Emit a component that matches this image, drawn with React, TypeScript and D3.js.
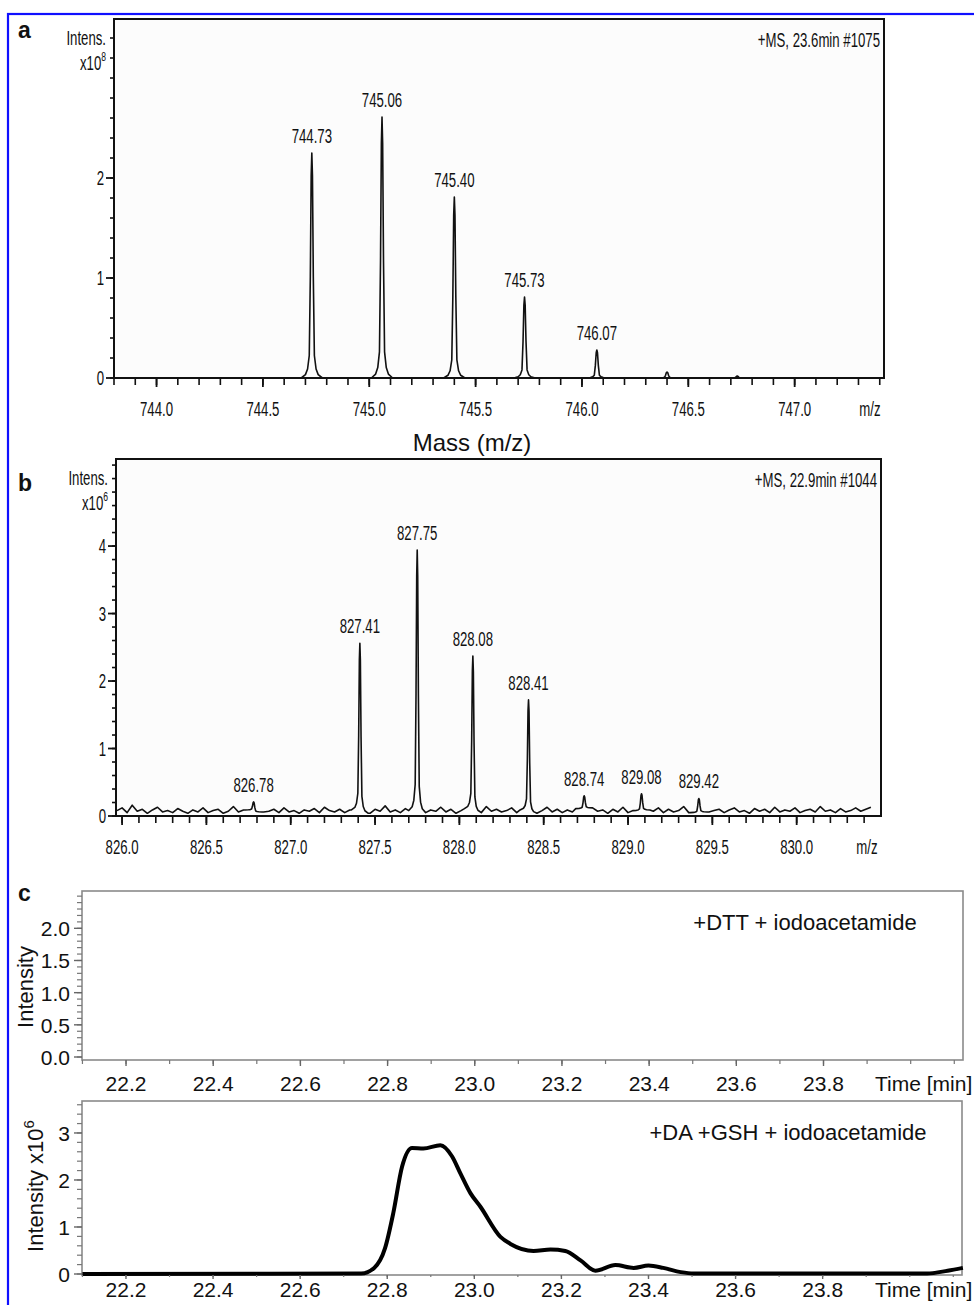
import React from "react";
import * as d3 from "d3";

// ---------- DATA ----------
// Panel a: isotope peaks (m/z, intensity x10^8)
const peaksAmz = [744.73, 745.06, 745.4, 745.73, 746.07, 746.4, 746.73];
const peaksAint = [2.25, 2.61, 1.81, 0.81, 0.28, 0.06, 0.02];
const peaksAlabel = ["744.73", "745.06", "745.40", "745.73", "746.07", "", ""];

// Panel b: isotope peaks (m/z, intensity x10^6)
const peaksBmz = [826.78, 827.41, 827.75, 828.08, 828.41, 828.74, 829.08, 829.42];
const peaksBint = [0.21, 2.56, 3.94, 2.37, 1.72, 0.3, 0.33, 0.26];
const peaksBlabel = ["826.78", "827.41", "827.75", "828.08", "828.41", "828.74", "829.08", "829.42"];
// baseline noise of panel b, one reading every 0.03 m/z from 825.97
const noiseB = [
  0.08, 0.12, 0.05, 0.16, 0.07, 0.1, 0.04, 0.09, 0.13, 0.06, 0.08, 0.05, 0.11, 0.07, 0.04, 0.09, 0.06, 0.12, 0.05, 0.08, 0.1, 0.04, 0.07, 0.14, 0.06, 0.09, 0.05, 0.08, 0.11, 0.06,
  0.07, 0.1, 0.05, 0.12, 0.06, 0.08, 0.04, 0.09, 0.07, 0.11, 0.05, 0.13, 0.08, 0.06, 0.1, 0.05, 0.09, 0.12, 0.06, 0.08, 0.04, 0.1, 0.07, 0.15, 0.06, 0.09, 0.05, 0.11, 0.08, 0.06,
  0.12, 0.05, 0.09, 0.07, 0.13, 0.06, 0.1, 0.04, 0.08, 0.11, 0.06, 0.09, 0.05, 0.14, 0.07, 0.1, 0.06, 0.08, 0.12, 0.05, 0.09, 0.07, 0.11, 0.04, 0.08, 0.13, 0.06, 0.1, 0.05, 0.09,
  0.06, 0.11, 0.05, 0.08, 0.12, 0.07, 0.09, 0.04, 0.1, 0.06, 0.13, 0.05, 0.08, 0.11, 0.06, 0.09, 0.07, 0.12, 0.05, 0.1, 0.06, 0.08, 0.14, 0.05, 0.09, 0.07, 0.11, 0.06, 0.08, 0.1,
  0.05, 0.09, 0.12, 0.06, 0.08, 0.04, 0.11, 0.07, 0.1, 0.05, 0.13, 0.06, 0.09, 0.07, 0.12, 0.05, 0.08, 0.1, 0.06, 0.14, 0.07, 0.09, 0.05, 0.11, 0.06, 0.08, 0.12, 0.07, 0.1, 0.13,
];
const noiseBstart = 825.97;
const noiseBstep = 0.03;

// shape of a single centroid peak: offset (m/z) and relative height
const peakOffsets = [-0.05, -0.03, -0.02, -0.012, -0.007, -0.003, 0, 0.003, 0.007, 0.012, 0.02, 0.03, 0.05];
const peakRel = [0, 0.015, 0.04, 0.1, 0.45, 0.9, 1, 0.9, 0.45, 0.1, 0.04, 0.015, 0];

// Panel c (lower): extracted ion chromatogram (time min, intensity x10^6)
const timeC = [22.1, 22.74, 22.77, 22.795, 22.814, 22.834, 22.857, 22.883, 22.922, 22.949, 22.968, 22.991, 23.014, 23.06, 23.083, 23.136, 23.175, 23.209, 23.244, 23.278, 23.324, 23.366, 23.4, 23.434, 23.474, 23.503, 24.04, 24.087, 24.122];
const intC = [0, 0.01, 0.13, 0.55, 1.3, 2.28, 2.68, 2.67, 2.74, 2.5, 2.14, 1.72, 1.43, 0.79, 0.64, 0.49, 0.52, 0.49, 0.29, 0.07, 0.19, 0.13, 0.18, 0.13, 0.04, 0.01, 0.01, 0.07, 0.13];

// tick values
const xTicksA = [744.0, 744.5, 745.0, 745.5, 746.0, 746.5, 747.0];
const yTicksA = [0, 1, 2];
const xTicksB = [826.0, 826.5, 827.0, 827.5, 828.0, 828.5, 829.0, 829.5, 830.0];
const yTicksB = [0, 1, 2, 3, 4];
const xTicksC = [22.2, 22.4, 22.6, 22.8, 23.0, 23.2, 23.4, 23.6, 23.8];
const yTicksC1 = [0, 0.5, 1.0, 1.5, 2.0];
const yTicksC2 = [0, 1, 2, 3];

// ---------- HELPERS ----------
const SANS = "'Liberation Sans', Arial, Helvetica, sans-serif";

function NText({ x, y, anchor = "middle", size = 20, sx = 0.66, children }: any) {
  return (
    <text
      transform={`translate(${x},${y}) scale(${sx},1)`}
      textAnchor={anchor}
      fontSize={size}
      fontFamily={SANS}
      fill="#111"
    >
      {children}
    </text>
  );
}

function spectrumPoints(mzs: number[], ints: number[], lo: number, hi: number, base: number[] | null) {
  const pts: [number, number][] = [];
  const inPeak = (m: number) => mzs.some((p) => Math.abs(m - p) < 0.05);
  if (base) {
    base.forEach((v, i) => {
      const m = noiseBstart + i * noiseBstep;
      if (m >= lo && m <= hi && !inPeak(m)) pts.push([m, v]);
    });
  } else {
    pts.push([lo, 0], [hi, 0]);
  }
  const baseAt = (m: number) => {
    if (!base) return 0;
    const i = Math.max(0, Math.min(base.length - 1, Math.round((m - noiseBstart) / noiseBstep)));
    return base[i];
  };
  mzs.forEach((p, k) => {
    const b0 = baseAt(p - 0.05);
    const b1 = baseAt(p + 0.05);
    peakOffsets.forEach((o, j) => {
      const b = o < 0 ? b0 : b1;
      pts.push([p + o, b + (ints[k] - b) * peakRel[j]]);
    });
  });
  pts.sort((a, b) => a[0] - b[0]);
  return pts;
}

// ---------- MS PANEL (a, b) ----------
function MSPanel({ x, y, mzs, ints, labels, base, xTicks, yTicks, expo, info, letter, letterY, labelDx = 0 }: any) {
  const line = d3
    .line<[number, number]>()
    .x((d) => x(d[0]))
    .y((d) => y(d[1]));
  const [x0, x1] = x.range();
  const [y0, y1] = y.range();
  const dom = x.domain();
  const ydom = y.domain();
  const pts = spectrumPoints(mzs, ints, dom[0], dom[1], base);
  const minorX = d3.range(Math.ceil(dom[0] * 10) / 10, dom[1], 0.1);
  const minorY = d3.range(0, ydom[1], 0.2);
  return (
    <g>
      <rect x={x0} y={y1} width={x1 - x0} height={y0 - y1} fill="#fcfcfc" stroke="#111" strokeWidth={2} />
      <path d={line(pts) || ""} fill="none" stroke="#111" strokeWidth={1.6} strokeLinejoin="round" />
      <line x1={x0} x2={x1} y1={y0} y2={y0} stroke="#111" strokeWidth={2} />
      {minorX.map((m: number, i: number) => (
        <line key={"mx" + i} x1={x(m)} x2={x(m)} y1={y0} y2={y0 + 7} stroke="#111" strokeWidth={1.6} />
      ))}
      {xTicks.map((t: number) => (
        <g key={"xt" + t}>
          <line x1={x(t)} x2={x(t)} y1={y0} y2={y0 + 9} stroke="#111" strokeWidth={1.8} />
          <NText x={x(t)} y={y0 + 38}>{t.toFixed(1)}</NText>
        </g>
      ))}
      <NText x={x1 - 14} y={y0 + 38}>m/z</NText>
      {minorY.map((v: number, i: number) => (
        <line key={"my" + i} x1={x0 - 4} x2={x0} y1={y(v)} y2={y(v)} stroke="#111" strokeWidth={1.6} />
      ))}
      {yTicks.map((t: number) => (
        <g key={"yt" + t}>
          <line x1={x0 - 8} x2={x0} y1={y(t)} y2={y(t)} stroke="#111" strokeWidth={1.8} />
          <NText x={x0 - 10} y={y(t) + 7} anchor="end">{String(t)}</NText>
        </g>
      ))}
      <NText x={x0 - 8} y={y1 + 26} anchor="end">Intens.</NText>
      <text transform={`translate(${x0 - 8},${y1 + 51}) scale(0.66,1)`} textAnchor="end" fontSize={20} fontFamily={SANS} fill="#111">
        x10<tspan fontSize={13} dy={-9}>{expo}</tspan>
      </text>
      <NText x={x1 - 4} y={y1 + 28} anchor="end">{info}</NText>
      {labels.map((l: string, i: number) =>
        l ? (
          <NText key={"pl" + i} x={x(mzs[i]) + labelDx} y={y(ints[i]) - 10}>
            {l}
          </NText>
        ) : null
      )}
      <text x={18} y={letterY} fontSize={23} fontWeight="bold" fontFamily={SANS} fill="#111">
        {letter}
      </text>
    </g>
  );
}

// ---------- CHROMATOGRAM PANEL (c) ----------
function ChromPanel({ x, y, yTicks, minorStep, yFmt, title, titleX, ylabel, data, labelDy, tickLen, frameGap }: any) {
  const [x0, x1] = x.range();
  const [yb, yt] = y.range();
  const xdom = x.domain();
  const ydom = y.domain();
  const frameBottom = yb + frameGap;
  const minorX = d3.range(22.1, xdom[1], 0.1);
  const minorY = d3.range(0, ydom[1], minorStep);
  const line = d3
    .line<[number, number]>()
    .x((d) => x(d[0]))
    .y((d) => y(d[1]))
    .curve(d3.curveMonotoneX);
  return (
    <g>
      <rect x={x0} y={yt} width={x1 - x0} height={frameBottom - yt} fill="#fff" stroke="#8a8a8a" strokeWidth={1.6} />
      {data ? <path d={line(data) || ""} fill="none" stroke="#000" strokeWidth={4} strokeLinejoin="round" /> : null}
      {minorX.map((m: number, i: number) => (
        <line key={"mx" + i} x1={x(m)} x2={x(m)} y1={frameBottom} y2={frameBottom + tickLen - 2} stroke="#777" strokeWidth={1.2} />
      ))}
      {xTicksC.map((t) => (
        <g key={"xt" + t}>
          <line x1={x(t)} x2={x(t)} y1={frameBottom} y2={frameBottom + tickLen} stroke="#666" strokeWidth={1.4} />
          <text x={x(t)} y={frameBottom + labelDy} textAnchor="middle" fontSize={21} fontFamily={SANS} fill="#111">
            {t.toFixed(1)}
          </text>
        </g>
      ))}
      <text x={875} y={frameBottom + labelDy} fontSize={21} fontFamily={SANS} fill="#111">
        Time [min]
      </text>
      {minorY.map((v: number, i: number) => (
        <line key={"my" + i} x1={x0 - 5} x2={x0} y1={y(v)} y2={y(v)} stroke="#777" strokeWidth={1.2} />
      ))}
      {yTicks.map((t: number) => (
        <g key={"yt" + t}>
          <line x1={x0 - 8} x2={x0} y1={y(t)} y2={y(t)} stroke="#666" strokeWidth={1.4} />
          <text x={x0 - 12} y={y(t) + 8} textAnchor="end" fontSize={21} fontFamily={SANS} fill="#111">
            {yFmt(t)}
          </text>
        </g>
      ))}
      <text x={titleX} y={yt + 39} textAnchor="middle" fontSize={22} fontFamily={SANS} fill="#111">
        {title}
      </text>
      {ylabel}
    </g>
  );
}

export default function App() {
  const xA = d3.scaleLinear().domain([743.8, 747.42]).range([114, 884]);
  const yA = d3.scaleLinear().domain([0, 3.59]).range([378, 19]);
  const xB = d3.scaleLinear().domain([825.964, 830.5]).range([116, 881]);
  const yB = d3.scaleLinear().domain([0, 5.29]).range([816, 459]);
  const xC1 = d3.scaleLinear().domain([22.099, 24.12]).range([82, 963]);
  const yC1 = d3.scaleLinear().domain([0, 2.58]).range([1057, 891]);
  const xC2 = d3.scaleLinear().domain([22.099, 24.12]).range([82, 962]);
  const yC2 = d3.scaleLinear().domain([0, 3.68]).range([1274, 1101]);
  const dataC: [number, number][] = timeC.map((t, i) => [t, intC[i]]);

  return (
    <svg width={974} height={1305} style={{ position: "absolute", left: 0, top: 0, background: "#fff" }}>
      <rect x={0} y={0} width={974} height={1305} fill="#fff" />
      <rect x={8} y={14} width={1000} height={1400} fill="none" stroke="#1010ff" strokeWidth={2.2} />
      <MSPanel
        x={xA}
        y={yA}
        mzs={peaksAmz}
        ints={peaksAint}
        labels={peaksAlabel}
        base={null}
        xTicks={xTicksA}
        yTicks={yTicksA}
        expo="8"
        info="+MS, 23.6min #1075"
        letter="a"
        letterY={38}
      />
      <text x={472} y={451} textAnchor="middle" fontSize={24} fontFamily={SANS} fill="#111">
        Mass (m/z)
      </text>
      <MSPanel
        x={xB}
        y={yB}
        mzs={peaksBmz}
        ints={peaksBint}
        labels={peaksBlabel}
        base={noiseB}
        xTicks={xTicksB}
        yTicks={yTicksB}
        expo="6"
        info="+MS, 22.9min #1044"
        letter="b"
        letterY={491}
      />
      <ChromPanel
        x={xC1}
        y={yC1}
        yTicks={yTicksC1}
        minorStep={0.1}
        yFmt={(t: number) => t.toFixed(1)}
        title="+DTT + iodoacetamide"
        titleX={805}
        data={null}
        labelDy={31}
        tickLen={6}
        frameGap={3}
        ylabel={
          <text transform="translate(33,987) rotate(-90)" textAnchor="middle" fontSize={22} fontFamily={SANS} fill="#111">
            Intensity
          </text>
        }
      />
      <text x={18} y={901} fontSize={23} fontWeight="bold" fontFamily={SANS} fill="#111">
        c
      </text>
      <ChromPanel
        x={xC2}
        y={yC2}
        yTicks={yTicksC2}
        minorStep={0.2}
        yFmt={(t: number) => String(t)}
        title="+DA +GSH + iodoacetamide"
        titleX={788}
        data={dataC}
        labelDy={22}
        tickLen={4}
        frameGap={1}
        ylabel={
          <text transform="translate(43,1186) rotate(-90)" textAnchor="middle" fontSize={22} fontFamily={SANS} fill="#111">
            Intensity x10<tspan fontSize={15} dy={-9}>6</tspan>
          </text>
        }
      />
    </svg>
  );
}
